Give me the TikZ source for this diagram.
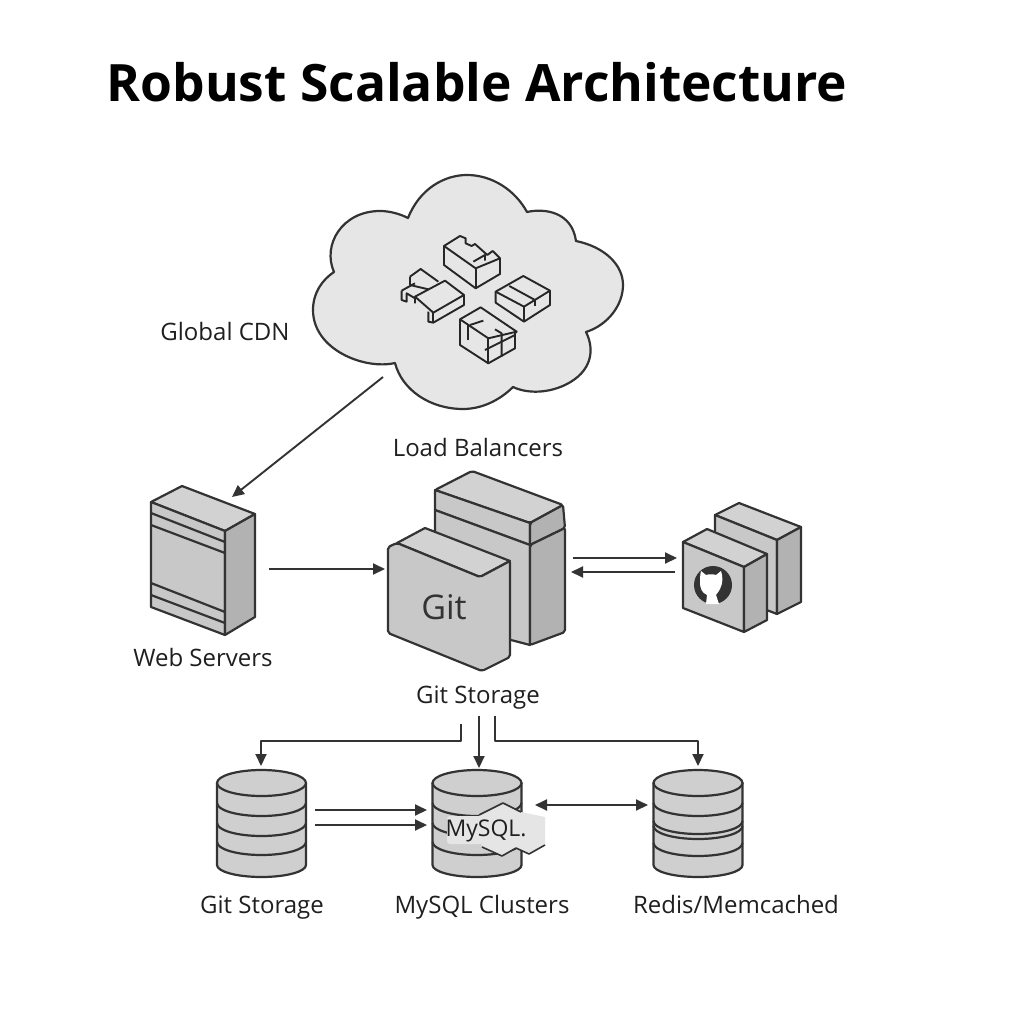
\documentclass[tikz,border=0pt]{standalone}
\usepackage{fontspec}
\setmainfont{Open Sans}
\usetikzlibrary{arrows.meta}
\definecolor{inkline}{HTML}{333333}
\definecolor{cloudgray}{HTML}{E6E6E6}
\definecolor{topgray}{HTML}{D2D2D2}
\definecolor{frontgray}{HTML}{C8C8C8}
\definecolor{sidegray}{HTML}{B2B2B2}
\definecolor{dbgray}{HTML}{CFCFCF}

\begin{document}
\begin{tikzpicture}[
  x=1pt,y=-1pt,
  line join=round,
  edge/.style={draw=inkline,line width=2.2pt},
  topface/.style={edge,fill=topgray},
  frontface/.style={edge,fill=frontgray},
  sideface/.style={edge,fill=sidegray},
  dbshell/.style={edge,fill=dbgray},
  icon/.style={draw=black!85,line width=1.9pt},
  link/.style={draw=inkline,line width=1.9pt,-{Triangle[length=12pt,width=11pt]}},
  twolink/.style={draw=inkline,line width=1.9pt,{Triangle[length=12pt,width=11pt]}-{Triangle[length=12pt,width=11pt]}},
  label/.style={text=black!88,font=\fontsize{24}{30}\selectfont,inner sep=0pt,anchor=base}
]
  \useasboundingbox (0,0) rectangle (1024,1024);
  \fill[white] (0,0) rectangle (1024,1024);

  \node[inner sep=0pt,font=\fontsize{51.5}{60}\selectfont\bfseries] (title) at (477,82) {Robust Scalable Architecture};

  % cloud
  \draw[edge,fill=cloudgray] (408,218) .. controls (420,188) and (445,175) .. (467,175)
    .. controls (492,175) and (515,190) .. (527,212)
    .. controls (545,208) and (572,212) .. (576,241)
    .. controls (605,247) and (623,265) .. (623,285)
    .. controls (623,305) and (608,325) .. (586,332)
    .. controls (595,350) and (592,372) .. (565,385)
    .. controls (548,393) and (528,394) .. (513,387)
    .. controls (500,400) and (482,409) .. (463,409)
    .. controls (430,409) and (402,390) .. (395,363)
    .. controls (365,370) and (313,350) .. (313,310)
    .. controls (313,293) and (322,280) .. (334,272)
    .. controls (322,245) and (342,211) .. (380,211)
    .. controls (390,211) and (400,214) .. (408,218) -- cycle;

  % parcels inside the cloud
  \begin{scope}[shift={(300,170)},x=0.3333pt,y=-0.3333pt]
    \draw[icon] (432,228) -- (480,198) -- (497,205) -- (497,220) -- (515,228) -- (525,222) -- (562,255) -- (578,243) -- (600,265) -- (600,312) -- (527,355) -- (432,285) -- cycle;
    \draw[icon] (432,228) -- (527,295) -- (600,265);
    \draw[icon] (527,295) -- (527,355);
    \draw[icon] (520,275) -- (555,255) -- (555,272);
    \draw[icon] (330,320) -- (362,297) -- (415,335);
    \draw[icon] (330,320) -- (330,345) -- (385,358);
    \draw[icon] (305,362) -- (345,340);
    \draw[icon] (305,362) -- (305,390) -- (320,395) -- (320,370) -- (345,385) -- (345,400);
    \draw[icon] (345,380) -- (435,332) -- (492,375) -- (400,428) -- cycle;
    \draw[icon] (385,425) -- (385,455) -- (400,458) -- (492,405) -- (492,375);
    \draw[icon] (400,428) -- (400,458);
    \draw[icon] (587,365) -- (670,318) -- (750,362) -- (750,405) -- (672,455) -- (587,398) -- cycle;
    \draw[icon] (587,365) -- (672,410) -- (750,362);
    \draw[icon] (672,410) -- (672,455);
    \draw[icon] (628,348) -- (705,390) -- (705,408);
    \draw[icon] (480,448) -- (542,412) -- (650,485) -- (645,490) -- (645,535) -- (565,580) -- (480,525) -- cycle;
    \draw[icon] (480,448) -- (565,505) -- (650,485);
    \draw[icon] (565,505) -- (565,580);
    \draw[icon] (505,465) -- (505,510);
    \draw[icon] (510,465) -- (550,452);
    \draw[icon] (585,478) -- (605,490) -- (605,560);
    \draw[icon] (555,540) -- (645,495);
  \end{scope}

  % web server
  \draw[topface] (151,502) -- (182,486) -- (255,514) -- (225,531) -- cycle;
  \draw[frontface] (151,502) -- (225,531) -- (225,635) -- (151,607) -- cycle;
  \draw[sideface] (225,531) -- (255,514) -- (255,617) -- (225,635) -- cycle;
  \draw[edge] (151,513) -- (225,542);
  \draw[edge] (151,525) -- (225,553);
  \draw[edge] (151,583) -- (225,612);
  \draw[edge] (151,595) -- (225,623);

  % load balancer, rear block
  \draw[topface,rounded corners=2pt] (435,490) -- (472,471) -- (563,505) -- (530,523) -- cycle;
  \draw[frontface] (435,490) -- (530,523) -- (530,545) -- (435,510) -- cycle;
  \draw[sideface,rounded corners=2pt] (530,523) -- (563,505) -- (565,528) -- (530,545) -- cycle;
  \draw[frontface] (435,510) -- (530,545) -- (530,645) -- (435,620) -- cycle;
  \draw[sideface,rounded corners=2pt] (530,545) -- (565,528) -- (565,632) -- (530,645) -- cycle;

  % git block
  \draw[topface] (397,543) -- (425,528) -- (510,561) -- (480,577) -- cycle;
  \draw[frontface,rounded corners=2pt] (388,547) -- (397,543) -- (480,577) -- (510,561) -- (510,657) -- (482,671) -- (388,633) -- cycle;
  \node[text=inkline,font=\fontsize{34}{40}\selectfont,inner sep=0pt] (gitmark) at (444,607) {Git};

  % hub pair
  \draw[topface] (715,515) -- (739,503) -- (801,527) -- (777,540) -- cycle;
  \draw[frontface] (715,515) -- (777,540) -- (777,614) -- (715,590) -- cycle;
  \draw[sideface] (777,540) -- (801,527) -- (801,602) -- (777,614) -- cycle;
  \draw[topface] (683,542) -- (707,529) -- (767,554) -- (744,567) -- cycle;
  \draw[frontface] (683,542) -- (744,567) -- (744,632) -- (683,608) -- cycle;
  \draw[sideface] (744,567) -- (767,554) -- (767,620) -- (744,632) -- cycle;
  \fill[inkline] (713,585) circle [radius=19pt];
  \fill[white] (701,571) -- (706,575) .. controls (709,574) and (713,574) .. (716,575) -- (721,571)
    .. controls (723,577) and (723,583) .. (720,589) .. controls (718,593) and (716,594) .. (716,595)
    -- (719,604) -- (706,604) -- (707,595) .. controls (702,593) and (700,588) .. (700,583) .. controls (700,579) and (700,575) .. (701,571) -- cycle;

  % databases
  \foreach \cx in {261.5,477,698} {
    \draw[dbshell] (\cx-44.5,783) -- (\cx-44.5,865) arc [start angle=180,end angle=360,x radius=44.5pt,y radius=12pt] -- (\cx+44.5,783) -- cycle;
    \draw[dbshell] (\cx,783) ellipse [x radius=44.5pt,y radius=13pt];
  }
  \foreach \by in {803,823,842} {
    \draw[edge] (217,\by) arc [start angle=180,end angle=360,x radius=44.5pt,y radius=13pt];
    \draw[edge] (432.5,\by) arc [start angle=180,end angle=360,x radius=44.5pt,y radius=13pt];
  }
  \foreach \by in {803,821,826,843} {
    \draw[edge] (653.5,\by) arc [start angle=180,end angle=360,x radius=44.5pt,y radius=13pt];
  }

  % mysql badge
  \fill[black!10] (479,815) -- (503,803) -- (521,812) -- (545,817) -- (545,845) -- (529,854) -- (516,848) -- (502,856) -- (482,847) -- cycle;
  \fill[black!10,rounded corners=3pt] (447,816) rectangle (490,844);
  \draw[edge,line width=1.6pt] (479,815) -- (503,803) -- (521,812);
  \draw[edge,line width=1.6pt] (482,847) -- (502,856) -- (516,848) -- (529,854) -- (545,845);
  \node[text=black!88,font=\fontsize{23}{30}\selectfont,inner sep=0pt] (mysql) at (486,831) {MySQL.};

  % labels
  \node[label] (cdnlabel) at (225,340) {Global CDN};
  \node[label] (lblabel) at (478,456) {Load Balancers};
  \node[label] (weblabel) at (203,666) {Web Servers};
  \node[label] (gitlabel) at (478,703) {Git Storage};
  \node[label] (storelabel) at (262,913) {Git Storage};
  \node[label] (clusterlabel) at (482,913) {MySQL Clusters};
  \node[label] (cachelabel) at (736,913) {Redis/Memcached};

  % connector ends
  \coordinate (cdnout) at (383,377);
  \coordinate (webin) at (232,497);
  \coordinate (webout) at (269,569);
  \coordinate (gitin) at (385,569);
  \coordinate (gitout) at (573,558);
  \coordinate (hubin) at (677,558);
  \coordinate (hubout) at (675,572);
  \coordinate (gitback) at (571,572);
  \coordinate (busa) at (461,724);
  \coordinate (busb) at (479,716);
  \coordinate (busc) at (495,716);
  \coordinate (busleft) at (361,741);
  \coordinate (busright) at (600,741);
  \coordinate (storein) at (261,766);
  \coordinate (mysqlin) at (479,768);
  \coordinate (cachein) at (698,766);
  \coordinate (storea) at (315,810);
  \coordinate (storeb) at (315,825);
  \coordinate (mysqla) at (427,810);
  \coordinate (mysqlb) at (427,825);
  \coordinate (mysqlr) at (535,805);
  \coordinate (cachel) at (648,805);

  \draw[link] (cdnout) -- (webin);
  \draw[link] (webout) -- (gitin);
  \draw[link] (gitout) -- (hubin);
  \draw[link] (hubout) -- (gitback);
  \draw[link] (busa) |- (busleft) -| (storein);
  \draw[link] (busb) -- (mysqlin);
  \draw[link] (busc) |- (busright) -| (cachein);
  \draw[link] (storea) -- (mysqla);
  \draw[link] (storeb) -- (mysqlb);
  \draw[twolink] (mysqlr) -- (cachel);
\end{tikzpicture}
\end{document}
